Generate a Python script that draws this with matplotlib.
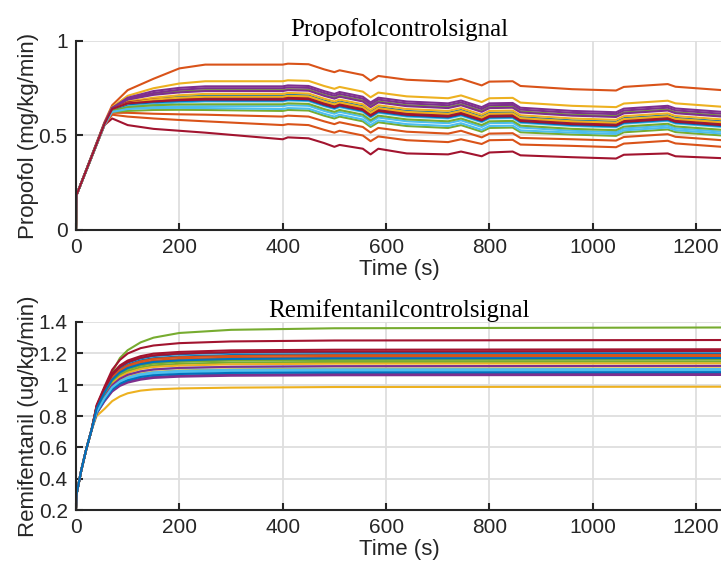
import matplotlib
matplotlib.use("Agg")
import matplotlib.pyplot as plt

plt.rcParams['font.family'] = ['Liberation Sans', 'DejaVu Sans']

# MATLAB default colour order
colors = ['#0072BD', '#D95319', '#EDB120', '#7E2F8E', '#77AC30', '#4DBEEE', '#A2142F']

# Propofol control signal, one row per patient (values read at prop_t)
prop_t = [0, 1, 55, 70, 100, 150, 200, 250, 400, 410, 450, 480, 500, 510, 555, 570, 585,
          640, 720, 745, 785, 800, 845, 860, 960, 1045, 1060, 1145, 1160, 1250]
prop_u = [
    [0, .185, .56, .64, .665, .68, .69, .695, .695, .700, .697, .670, .655, .665, .640, .610, .635, .615, .605, .620, .585, .605, .607, .582, .565, .558, .577, .592, .578, .560],
    [0, .185, .57, .66, .74, .80, .855, .875, .875, .880, .877, .850, .835, .845, .820, .790, .815, .795, .785, .800, .765, .785, .787, .762, .745, .738, .757, .772, .758, .740],
    [0, .185, .565, .65, .71, .75, .775, .787, .787, .792, .789, .762, .747, .757, .732, .702, .727, .707, .697, .712, .677, .697, .699, .674, .657, .650, .669, .684, .670, .652],
    [0, .185, .565, .645, .70, .735, .752, .760, .760, .765, .762, .735, .720, .730, .705, .675, .700, .680, .670, .685, .650, .670, .672, .647, .630, .623, .642, .657, .643, .625],
    [0, .185, .56, .645, .69, .72, .733, .740, .740, .745, .742, .715, .700, .710, .685, .655, .680, .660, .650, .665, .630, .650, .652, .627, .610, .603, .622, .637, .623, .605],
    [0, .185, .56, .635, .655, .665, .675, .680, .680, .685, .682, .655, .640, .650, .625, .595, .620, .600, .590, .605, .570, .590, .592, .567, .550, .543, .562, .577, .563, .545],
    [0, .185, .555, .59, .555, .535, .525, .515, .480, .490, .485, .460, .440, .450, .430, .400, .430, .405, .400, .415, .390, .410, .415, .395, .385, .378, .398, .405, .390, .380],
    [0, .185, .56, .64, .675, .695, .705, .710, .710, .715, .712, .685, .670, .680, .655, .625, .650, .630, .620, .635, .600, .620, .622, .597, .580, .573, .592, .607, .593, .575],
    [0, .185, .555, .62, .62, .615, .612, .610, .600, .605, .600, .575, .560, .570, .545, .515, .540, .520, .510, .525, .490, .510, .512, .487, .480, .473, .492, .507, .493, .475],
    [0, .185, .56, .64, .68, .70, .713, .720, .720, .725, .722, .695, .680, .690, .665, .635, .660, .640, .630, .645, .610, .630, .632, .607, .590, .583, .602, .617, .603, .585],
    [0, .185, .56, .645, .69, .715, .728, .735, .735, .740, .737, .710, .695, .705, .680, .650, .675, .655, .645, .660, .625, .645, .647, .622, .605, .598, .617, .632, .618, .600],
    [0, .185, .555, .625, .63, .635, .636, .635, .630, .635, .632, .605, .590, .600, .575, .545, .570, .550, .540, .555, .520, .540, .542, .517, .505, .498, .517, .532, .518, .500],
    [0, .185, .56, .63, .645, .65, .654, .655, .655, .660, .657, .630, .615, .625, .600, .570, .595, .575, .565, .580, .545, .565, .567, .542, .525, .518, .537, .552, .538, .520],
    [0, .185, .56, .64, .675, .69, .697, .700, .700, .705, .702, .675, .660, .670, .645, .615, .640, .620, .610, .625, .590, .610, .612, .587, .570, .563, .582, .597, .583, .565],
    [0, .185, .56, .635, .665, .675, .682, .685, .685, .690, .687, .660, .645, .655, .630, .600, .625, .605, .595, .610, .575, .595, .597, .572, .555, .548, .567, .582, .568, .550],
    [0, .185, .555, .61, .60, .59, .582, .575, .555, .560, .555, .530, .515, .525, .500, .470, .495, .475, .465, .480, .455, .475, .477, .452, .445, .438, .457, .472, .458, .440],
    [0, .185, .56, .64, .67, .69, .700, .705, .705, .710, .707, .680, .665, .675, .650, .620, .645, .625, .615, .630, .595, .615, .617, .592, .575, .568, .587, .602, .588, .570],
    [0, .185, .565, .645, .695, .725, .742, .750, .750, .755, .752, .725, .710, .720, .695, .665, .690, .670, .660, .675, .640, .660, .662, .637, .620, .613, .632, .647, .633, .615],
    [0, .185, .56, .63, .65, .66, .664, .665, .665, .670, .667, .640, .625, .635, .610, .580, .605, .585, .575, .590, .555, .575, .577, .552, .535, .528, .547, .562, .548, .530],
    [0, .185, .555, .625, .64, .645, .646, .645, .640, .645, .642, .615, .600, .610, .585, .555, .580, .560, .550, .565, .530, .550, .552, .527, .515, .508, .527, .542, .528, .510],
    [0, .185, .56, .64, .67, .68, .687, .690, .690, .695, .692, .665, .650, .660, .635, .605, .630, .610, .600, .615, .580, .600, .602, .577, .560, .553, .572, .587, .573, .555],
]

# Remifentanil control signal, one row per patient (values read at remi_t)
remi_t = [0, 1, 10, 20, 30, 40, 55, 70, 85, 100, 125, 150, 200, 300, 500, 1250]
remi_u = [
    [.21, .30, .45, .59, .71, .860, .971, 1.061, 1.111, 1.141, 1.168, 1.183, 1.195, 1.204, 1.208, 1.211],
    [.21, .30, .45, .59, .71, .851, .954, 1.038, 1.085, 1.113, 1.139, 1.153, 1.164, 1.172, 1.177, 1.179],
    [.21, .30, .45, .59, .71, .800, .845, .895, .925, .945, .962, .970, .976, .981, .985, .987],
    [.21, .30, .45, .59, .71, .816, .893, .956, .992, 1.013, 1.032, 1.043, 1.051, 1.057, 1.060, 1.062],
    [.21, .30, .45, .59, .71, .860, .940, 1.080, 1.170, 1.220, 1.270, 1.300, 1.330, 1.350, 1.360, 1.365],
    [.21, .30, .45, .59, .71, .833, .923, .996, 1.037, 1.062, 1.084, 1.097, 1.106, 1.113, 1.117, 1.119],
    [.21, .30, .45, .59, .71, .871, .986, 1.095, 1.158, 1.199, 1.233, 1.250, 1.265, 1.276, 1.282, 1.285],
    [.21, .30, .45, .59, .71, .856, .963, 1.050, 1.099, 1.128, 1.155, 1.169, 1.180, 1.189, 1.194, 1.196],
    [.21, .30, .45, .59, .71, .846, .946, 1.028, 1.073, 1.100, 1.125, 1.139, 1.149, 1.158, 1.162, 1.164],
    [.21, .30, .45, .59, .71, .828, .915, .986, 1.025, 1.049, 1.071, 1.082, 1.091, 1.098, 1.102, 1.104],
    [.21, .30, .45, .59, .71, .818, .897, .962, .998, 1.020, 1.039, 1.050, 1.058, 1.065, 1.068, 1.070],
    [.21, .30, .45, .59, .71, .841, .937, 1.016, 1.060, 1.086, 1.110, 1.123, 1.133, 1.141, 1.145, 1.147],
    [.21, .30, .45, .59, .71, .824, .908, .976, 1.014, 1.037, 1.058, 1.069, 1.078, 1.085, 1.088, 1.090],
    [.21, .30, .45, .59, .71, .865, .978, 1.071, 1.123, 1.154, 1.182, 1.198, 1.209, 1.219, 1.223, 1.226],
    [.21, .30, .45, .59, .71, .821, .902, .969, 1.006, 1.028, 1.049, 1.060, 1.068, 1.075, 1.078, 1.080],
    [.21, .30, .45, .59, .71, .854, .960, 1.046, 1.094, 1.123, 1.149, 1.164, 1.175, 1.183, 1.188, 1.190],
    [.21, .30, .45, .59, .71, .838, .932, 1.008, 1.051, 1.076, 1.100, 1.113, 1.122, 1.130, 1.134, 1.136],
    [.21, .30, .45, .59, .71, .833, .923, .997, 1.038, 1.063, 1.085, 1.097, 1.107, 1.114, 1.118, 1.120],
    [.21, .30, .45, .59, .71, .845, .944, 1.025, 1.070, 1.097, 1.122, 1.135, 1.146, 1.154, 1.158, 1.160],
    [.21, .30, .45, .59, .71, .827, .913, .983, 1.022, 1.045, 1.067, 1.079, 1.088, 1.095, 1.098, 1.100],
    [.21, .30, .45, .59, .71, .861, .973, 1.063, 1.114, 1.144, 1.172, 1.187, 1.199, 1.208, 1.212, 1.215],
    [.21, .30, .45, .59, .71, .848, .949, 1.032, 1.078, 1.106, 1.131, 1.145, 1.155, 1.164, 1.168, 1.170],
]

x_ticks = [0, 200, 400, 600, 800, 1000, 1200]
prop_ticks = [0, 0.5, 1]
remi_ticks = [0.2, 0.4, 0.6, 0.8, 1.0, 1.2, 1.4]


def style_axes(ax, title, ylabel, yticks, ylim):
    ax.set_xlim(0, 1250)
    ax.set_ylim(*ylim)
    ax.set_xticks(x_ticks)
    ax.set_yticks(yticks)
    ax.set_yticklabels([f"{v:g}" for v in yticks])
    ax.grid(True, color='#dedede', lw=1.3)
    ax.set_axisbelow(True)
    for side in ['top', 'right']:
        ax.spines[side].set_visible(False)
    for side in ['left', 'bottom']:
        ax.spines[side].set_color('#262626')
        ax.spines[side].set_linewidth(1.5)
    ax.tick_params(direction='in', length=5, width=1.5, color='#262626',
                   labelsize=15, labelcolor='#262626', pad=6)
    ax.set_xlabel('Time (s)', fontsize=16, color='#262626', labelpad=1)
    ax.set_ylabel(ylabel, fontsize=16, color='#262626')
    ax.yaxis.set_label_coords(-0.057, 0.5)
    ax.set_title(title, family='Liberation Serif', fontsize=18, pad=3)


fig = plt.figure(figsize=(7.21, 5.67), dpi=100)

ax1 = fig.add_axes([0.1054, 0.5944, 0.896, 0.3333])
for i, u in enumerate(prop_u):
    ax1.plot(prop_t, u, color=colors[i % 7], lw=1.5)
style_axes(ax1, 'Propofolcontrolsignal', 'Propofol (mg/kg/min)', prop_ticks, (0, 1))

ax2 = fig.add_axes([0.1054, 0.1005, 0.896, 0.3316])
for i, u in enumerate(remi_u):
    ax2.plot(remi_t, u, color=colors[i % 7], lw=1.5)
style_axes(ax2, 'Remifentanilcontrolsignal', 'Remifentanil (ug/kg/min)', remi_ticks, (0.2, 1.4))

fig.savefig('out.png', dpi=100)
